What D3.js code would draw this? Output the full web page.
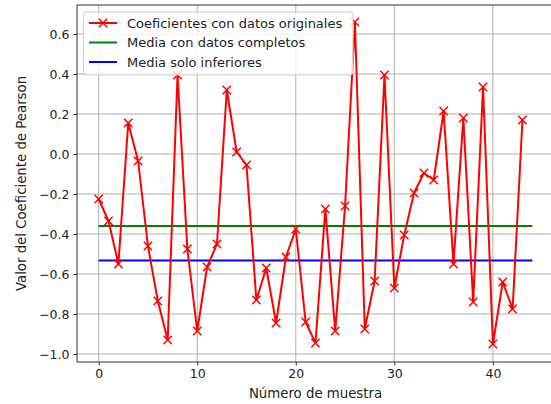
<!DOCTYPE html>
<html><head><meta charset="utf-8">
<script src="https://cdn.jsdelivr.net/npm/d3@7"></script>
<style>body{margin:0;background:#fff}svg{display:block}text{font-family:"DejaVu Sans",sans-serif}</style>
</head><body><svg id="c" width="551" height="404"></svg>
<script>
const coefValues = [-0.225,-0.335,-0.55,0.155,-0.035,-0.46,-0.735,-0.93,0.395,-0.475,-0.885,-0.565,-0.45,0.32,0.01,-0.055,-0.73,-0.57,-0.845,-0.515,-0.375,-0.84,-0.945,-0.275,-0.885,-0.26,0.66,-0.875,-0.635,0.395,-0.67,-0.405,-0.195,-0.095,-0.13,0.215,-0.55,0.18,-0.74,0.335,-0.95,-0.64,-0.775,0.17];
const meanComplete = -0.36;
const meanLower = -0.533;
const meanRange = [0, 44];
const xTicks = [0,10,20,30,40];
const yTicks = [-1.0,-0.8,-0.6,-0.4,-0.2,0.0,0.2,0.4,0.6];
const legendLabels = ["Coeficientes con datos originales","Media con datos completos","Media solo inferiores"];
const legendColors = ["red","green","blue"];

const svg = d3.select("#c");
const L=77, R=554, T=5, B=362;
const x = d3.scaleLinear().domain([-2.2,46.2]).range([L,R]);
const y = d3.scaleLinear().domain([-1.04,0.745]).range([B,T]);

const g = svg.append("g");
g.selectAll(".gx").data(xTicks).enter().append("line")
 .attr("x1",d=>x(d)).attr("x2",d=>x(d)).attr("y1",T).attr("y2",B)
 .attr("stroke","#b0b0b0").attr("stroke-width",1);
g.selectAll(".gy").data(yTicks).enter().append("line")
 .attr("x1",L).attr("x2",R).attr("y1",d=>y(d)).attr("y2",d=>y(d))
 .attr("stroke","#b0b0b0").attr("stroke-width",1);

g.append("line").attr("x1",x(meanRange[0])).attr("x2",x(meanRange[1]))
 .attr("y1",y(meanComplete)).attr("y2",y(meanComplete)).attr("stroke","green").attr("stroke-width",2);
g.append("line").attr("x1",x(meanRange[0])).attr("x2",x(meanRange[1]))
 .attr("y1",y(meanLower)).attr("y2",y(meanLower)).attr("stroke","blue").attr("stroke-width",2);

const line = d3.line().x((d,i)=>x(i)).y(d=>y(d));
g.append("path").datum(coefValues).attr("d",line).attr("fill","none")
 .attr("stroke","red").attr("stroke-width",2).attr("stroke-linejoin","round");
const ms=4.2;
g.selectAll(".mk").data(coefValues).enter().append("path")
 .attr("d",(d,i)=>{const cx=x(i),cy=y(d);return `M${cx-ms},${cy-ms}L${cx+ms},${cy+ms}M${cx-ms},${cy+ms}L${cx+ms},${cy-ms}`;})
 .attr("stroke","red").attr("stroke-width",1.5);

const xa = svg.append("g").attr("transform",`translate(0,${B})`)
 .call(d3.axisBottom(x).tickValues(xTicks).tickSize(3.5).tickPadding(4).tickFormat(d3.format("d")));
const ya = svg.append("g").attr("transform",`translate(${L},0)`)
 .call(d3.axisLeft(y).tickValues(yTicks).tickSize(3.5).tickPadding(4).tickFormat(d=>d3.format(".1f")(d).replace("-","\u2212")));
[xa,ya].forEach(a=>{a.select(".domain").remove();a.selectAll("text").attr("font-size",12.5).attr("fill","#222").style("font-family","DejaVu Sans");a.selectAll("line").attr("stroke","#333");});
svg.append("rect").attr("x",L).attr("y",T).attr("width",R-L).attr("height",B-T)
 .attr("fill","none").attr("stroke","#333").attr("stroke-width",1);

svg.append("text").attr("x",(L+R)/2).attr("y",398).attr("text-anchor","middle").attr("font-size",13.3).attr("fill","#222").text("Número de muestra");
svg.append("text").attr("transform",`translate(26,${(T+B)/2}) rotate(-90)`).attr("text-anchor","middle").attr("font-size",13.3).attr("fill","#222").text("Valor del Coeficiente de Pearson");

const lg = svg.append("g");
lg.append("rect").attr("x",83.5).attr("y",12).attr("width",269.5).attr("height",63).attr("rx",3)
 .attr("fill","white").attr("fill-opacity",0.8).attr("stroke","#ccc");
legendLabels.forEach((t,i)=>{
  const yy = 23 + i*19.5;
  lg.append("line").attr("x1",89).attr("x2",117).attr("y1",yy).attr("y2",yy).attr("stroke",legendColors[i]).attr("stroke-width",2);
  if(i===0){ lg.append("path").attr("d",`M${103-ms},${yy-ms}L${103+ms},${yy+ms}M${103-ms},${yy+ms}L${103+ms},${yy-ms}`).attr("stroke","red").attr("stroke-width",1.5);}
  lg.append("text").attr("x",127).attr("y",yy+4.5).attr("font-size",13).attr("fill","#222").text(t);
});
</script></body></html>
